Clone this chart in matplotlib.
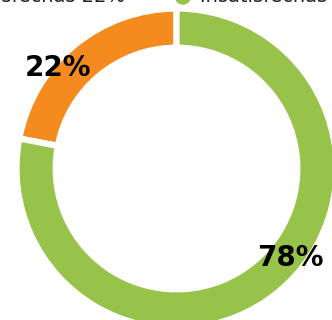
import matplotlib.pyplot as plt
from matplotlib.patches import Circle

labels = ['Satisfechas', 'Insatisfechas']
values = [22, 78]
colors = ['#F58A1F', '#98C34B']

W, H = 332, 320
fig = plt.figure(figsize=(W / 100, H / 100), dpi=100)

# donut centre and outer radius in pixels (white edge eats ~3px on each side)
CX, CY, R = 176.5, 168.5, 160
ax = fig.add_axes([(CX - R) / W, (H - CY - R) / H, 2 * R / W, 2 * R / H])
ax.pie(values, colors=colors, startangle=90, counterclock=True,
       wedgeprops=dict(width=0.245, edgecolor='white', linewidth=4.5))
ax.set_xlim(-1, 1)
ax.set_ylim(-1, 1)
ax.set_aspect('equal')
ax.axis('off')

# percentage labels
pos = [(-0.74, 0.63), (0.71, -0.56)]
for v, (x, y) in zip(values, pos):
    ax.text(x, y, f'{v}%', ha='center', va='center', fontsize=20,
            fontweight='bold', color='black')

# legend row along the top edge
ty = (H - 1.5) / H
fig.text(125 / W, ty, f'{labels[0]} {values[0]}%', ha='right',
         va='baseline', fontsize=14, color='#222222')
fig.patches.append(Circle((183 / W, (H + 3) / H), 8 / W, transform=fig.transFigure,
                          facecolor=colors[1], edgecolor='none'))
fig.text(200 / W, ty, f'{labels[1]} {values[1]}%', ha='left',
         va='baseline', fontsize=14, color='#222222')

fig.savefig('out.png', dpi=100, facecolor='white')
